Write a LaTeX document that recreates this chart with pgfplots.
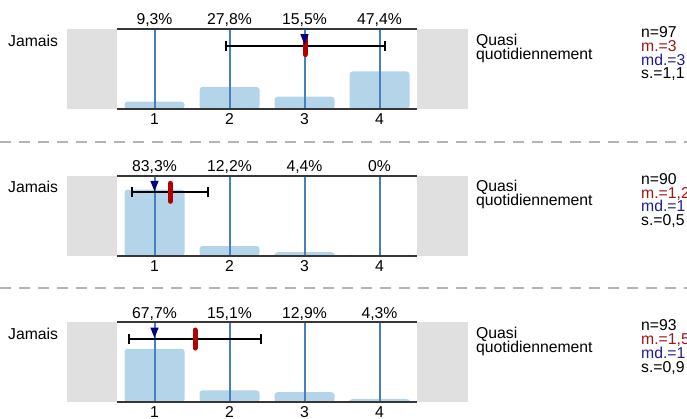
\documentclass[border=0pt]{standalone}
\usepackage{fontspec}
\setmainfont{Liberation Sans}
\usepackage{pgfplots}
\pgfplotsset{compat=1.18}
\definecolor{barblue}{RGB}{180,212,234}
\definecolor{linblue}{RGB}{70,128,190}
\definecolor{axgray}{RGB}{55,55,55}
\definecolor{bandgray}{RGB}{224,224,224}
\definecolor{meanred}{RGB}{176,0,0}
\definecolor{mednavy}{RGB}{0,0,128}
\definecolor{mtext}{RGB}{160,20,20}
\definecolor{mdtext}{RGB}{30,30,150}
\definecolor{dashgray}{RGB}{180,180,180}
\newcommand\lab{\fontsize{15.8}{14}\selectfont}
\pgfdeclareplotmark{vpill}{%
  \pgfsetlinewidth{5bp}\pgfsetroundcap
  \pgfpathmoveto{\pgfqpoint{0bp}{-9bp}}\pgfpathlineto{\pgfqpoint{0bp}{9bp}}\pgfusepathqstroke}
\pgfdeclareplotmark{dtri}{%
  \pgfpathmoveto{\pgfqpoint{-4.2bp}{11.5bp}}\pgfpathlineto{\pgfqpoint{4.2bp}{11.5bp}}%
  \pgfpathlineto{\pgfqpoint{0bp}{1.2bp}}\pgfpathclose\pgfusepathqfill}
\pgfdeclareplotmark{vcap}{%
  \pgfpathmoveto{\pgfqpoint{0bp}{-5bp}}\pgfpathlineto{\pgfqpoint{0bp}{5bp}}\pgfusepathqstroke}
\pgfplotsset{
  panel/.style={scale only axis, width=300bp, height=80bp,
    xmin=0.5, xmax=4.5, ymin=0, ymax=101,
    xtick={1,2,3,4}, xticklabels={1,2,3,4}, ytick=\empty,
    major tick length=0pt, axis line style={draw=none},
    xticklabel style={anchor=base, yshift=-15.3bp, font=\lab, inner sep=0pt},
    clip=false, anchor=south west},
  pct/.style={draw=none, nodes near coords, point meta=explicit symbolic,
    every node near coord/.append style={anchor=base, yshift=4bp, inner sep=0pt, text=black, font=\lab}},
  eb/.style={black, mark=none, error bars/.cd, x dir=both, x explicit,
    error bar style={line width=2bp, black},
    error mark=vcap,
    error mark options={black, line width=2bp, rotate=0}},
}
\newcommand\panelbands{%
  \fill[bandgray] (rel axis cs:-0.1667,0) rectangle (rel axis cs:0,1);
  \fill[bandgray] (rel axis cs:1,0) rectangle (rel axis cs:1.17,1);}
\newcommand\panellines{%
  \draw[axgray, line width=2bp] (rel axis cs:0,0) -- (rel axis cs:1,0) (rel axis cs:0,1) -- (rel axis cs:1,1);}
\begin{document}
\begin{tikzpicture}[font=\lab]
\useasboundingbox (0,0) rectangle (687bp,-419bp);
% ---------- panel 1
\begin{axis}[panel, at={(117bp,-109bp)}]
\panelbands
\addplot[ybar, bar width=0.8, fill=barblue, draw=none, rounded corners=3bp] coordinates {(1,9.3)(2,27.8)(3,15.5)(4,47.4)};
\addplot[ycomb, linblue, line width=2bp, mark=none] coordinates {(1,101)(2,101)(3,101)(4,101)};
\addplot[pct] coordinates {(1,101)[9,3\%] (2,101)[27,8\%] (3,101)[15,5\%] (4,101)[47,4\%]};
\addplot[eb] coordinates {(3.01,80) +- (1.06,0)};
\addplot[only marks, mark=vpill, meanred] coordinates {(3.01,80)};
\addplot[only marks, mark=dtri, mednavy] coordinates {(3,80)};
\panellines
\end{axis}
% ---------- panel 2
\begin{axis}[panel, at={(117bp,-255.7bp)}]
\panelbands
\addplot[ybar, bar width=0.8, fill=barblue, draw=none, rounded corners=3bp] coordinates {(1,83.3)(2,12.2)(3,4.4)(4,0)};
\addplot[ycomb, linblue, line width=2bp, mark=none] coordinates {(1,101)(2,101)(3,101)(4,101)};
\addplot[pct] coordinates {(1,101)[83,3\%] (2,101)[12,2\%] (3,101)[4,4\%] (4,101)[0\%]};
\addplot[eb] coordinates {(1.21,80) +- (0.505,0)};
\addplot[only marks, mark=vpill, meanred] coordinates {(1.21,80)};
\addplot[only marks, mark=dtri, mednavy] coordinates {(1,80)};
\panellines
\end{axis}
% ---------- panel 3
\begin{axis}[panel, at={(117bp,-402.4bp)}]
\panelbands
\addplot[ybar, bar width=0.8, fill=barblue, draw=none, rounded corners=3bp] coordinates {(1,67.7)(2,15.1)(3,12.9)(4,4.3)};
\addplot[ycomb, linblue, line width=2bp, mark=none] coordinates {(1,101)(2,101)(3,101)(4,101)};
\addplot[pct] coordinates {(1,101)[67,7\%] (2,101)[15,1\%] (3,101)[12,9\%] (4,101)[4,3\%]};
\addplot[eb] coordinates {(1.54,80) +- (0.875,0)};
\addplot[only marks, mark=vpill, meanred] coordinates {(1.54,80)};
\addplot[only marks, mark=dtri, mednavy] coordinates {(1,80)};
\panellines
\end{axis}
% ---------- separators
\draw[dashgray, line width=2bp, dash pattern=on 11bp off 8bp] (0,-141.7bp) -- (687bp,-141.7bp);
\draw[dashgray, line width=2bp, dash pattern=on 11bp off 8bp] (0,-288.4bp) -- (687bp,-288.4bp);
% ---------- texts
\begin{scope}[every node/.style={anchor=base west, inner sep=0pt, font=\lab}]
\foreach \t/\n/\m/\md/\s in {29/97/3/3/{1,1}, 175.7/90/{1,2}/1/{0,5}, 322.4/93/{1,5}/1/{0,9}}{
  \node at (8bp,-\t bp-17bp) {Jamais};
  \node at (476bp,-\t bp-16bp) {Quasi};
  \node at (476bp,-\t bp-30bp) {quotidiennement};
  \node at (641bp,-\t bp-8.5bp) {n=\n};
  \node[text=mtext] at (641bp,-\t bp-22.3bp) {m.=\m};
  \node[text=mdtext] at (641bp,-\t bp-36.1bp) {md.=\md};
  \node at (641bp,-\t bp-49.9bp) {s.=\s};
}
\end{scope}
\end{tikzpicture}
\end{document}
